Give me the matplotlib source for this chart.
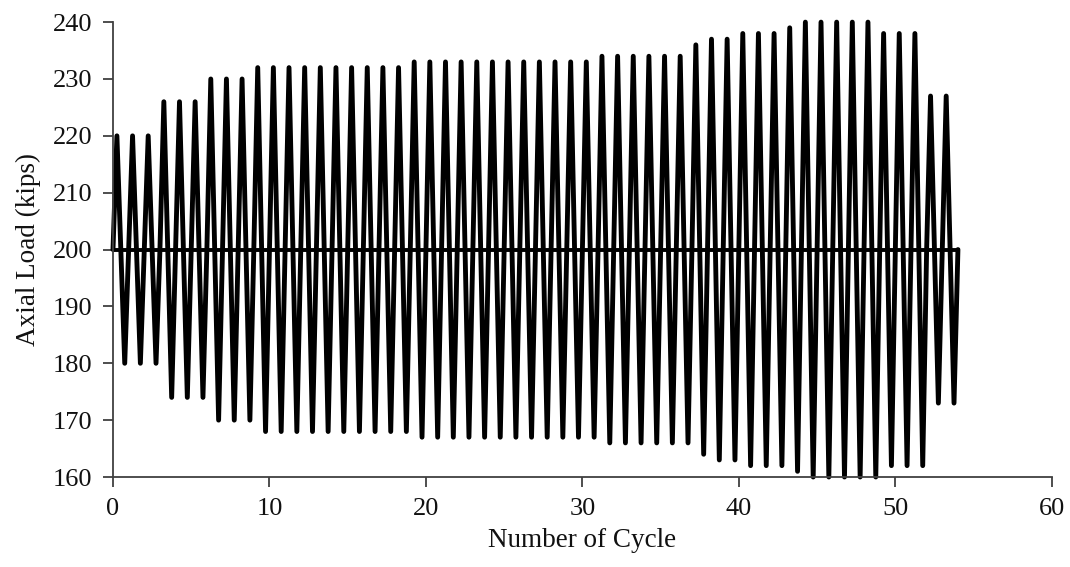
import numpy as np
import matplotlib
matplotlib.use('Agg')
import matplotlib.pyplot as plt

# Valores: carga maxima y minima por ciclo (kips)
picos = [220, 220, 220, 226, 226, 226, 230, 230, 230,
         232, 232, 232, 232, 232, 232, 232, 232, 232, 232,
         233, 233, 233, 233, 233, 233, 233, 233, 233, 233, 233, 233,
         234, 234, 234, 234, 234, 234,
         236, 237, 237, 238, 238, 238, 239,
         240, 240, 240, 240, 240,
         238, 238, 238, 227, 227]
valles = [180, 180, 180, 174, 174, 174, 170, 170, 170,
          168, 168, 168, 168, 168, 168, 168, 168, 168, 168,
          167, 167, 167, 167, 167, 167, 167, 167, 167, 167, 167, 167,
          166, 166, 166, 166, 166, 166,
          164, 163, 163, 162, 162, 162, 161,
          160, 160, 160, 160, 160,
          162, 162, 162, 173, 173]
carga_media = 200

# Construir la historia de carga: media -> pico -> media -> valle -> media en cada ciclo
x = [0.0]
y = [carga_media]
for i, (p, v) in enumerate(zip(picos, valles)):
    x += [i + 0.25, i + 0.5, i + 0.75, i + 1.0]
    y += [p, carga_media, v, carga_media]
n_ciclos = len(picos)

plt.rcParams['font.family'] = ['Liberation Serif', 'DejaVu Serif']

fig, ax = plt.subplots(figsize=(10.7, 5.67), dpi=100)
fig.subplots_adjust(left=0.1056, right=0.983, top=0.961, bottom=0.1587)

ax.plot(x, y, color='black', linewidth=3.5, clip_on=False,
        solid_joinstyle='round', solid_capstyle='round')
ax.plot([0, n_ciclos], [carga_media, carga_media], color='black', linewidth=2.8)

ax.set_xlim(0, 60)
ax.set_ylim(160, 240)
ax.set_xticks(np.arange(0, 61, 10))
ax.set_yticks(np.arange(160, 241, 10))

ax.spines['top'].set_visible(False)
ax.spines['right'].set_visible(False)
for s in ['left', 'bottom']:
    ax.spines[s].set_color('#404040')
    ax.spines[s].set_linewidth(1.3)
ax.tick_params(direction='out', length=7, width=1.3, color='#404040',
               labelsize=19, labelcolor='#111111', pad=8)

ax.set_xlabel('Number of Cycle', fontsize=19.5, color='#111111', labelpad=6)
ax.set_ylabel('Axial Load (kips)', fontsize=19.5, color='#111111', labelpad=8)

plt.savefig('out.png', dpi=100)
